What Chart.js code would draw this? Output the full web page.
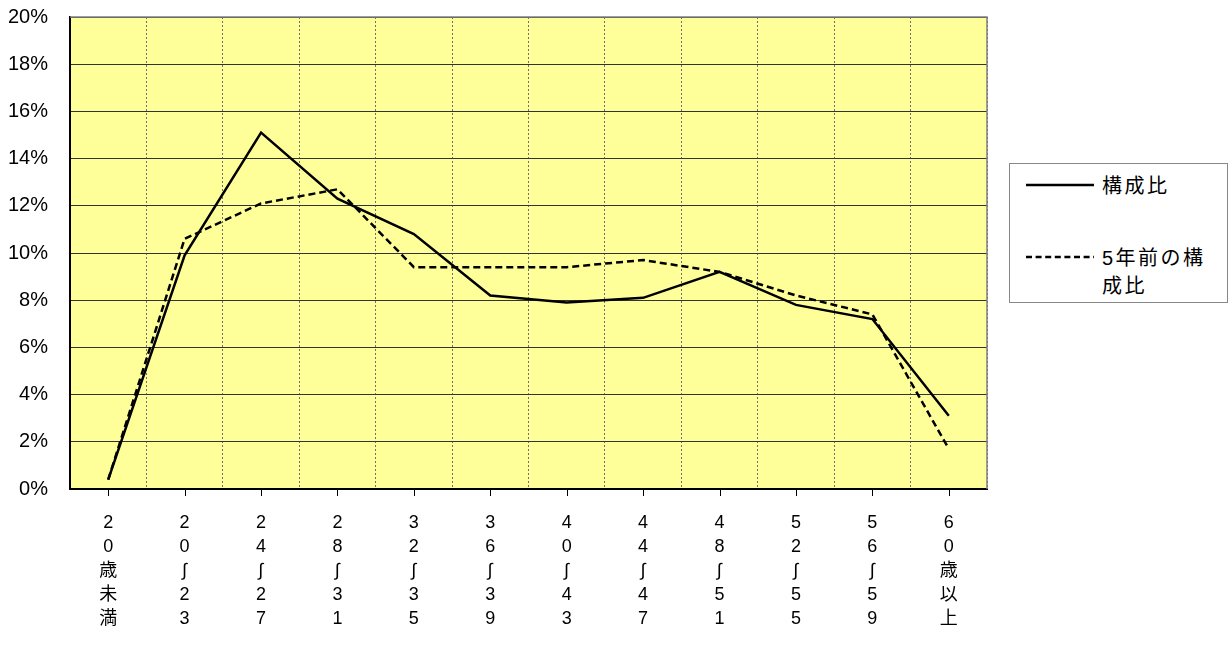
<!DOCTYPE html>
<html>
<head>
<meta charset="utf-8">
<script src="https://cdn.jsdelivr.net/npm/chart.js@4/dist/chart.umd.min.js"></script>
<style>
  body { margin: 0; background: #fff; }
  #wrap { position: relative; width: 1232px; height: 660px; }
  #legend {
    position: absolute; left: 1009px; top: 163px; width: 217px; height: 138px;
    border: 1px solid #888; background: #fff;
    font-family: "Liberation Sans", "Noto Sans CJK JP", sans-serif;
    font-size: 20px; letter-spacing: 2.5px; color: #000;
  }
  .item { position: absolute; left: 16px; }
  .item svg { position: absolute; left: 0; }
  .item span { position: absolute; left: 76px; width: 122px; line-height: 28px; }
</style>
</head>
<body>
<div id="wrap">
  <canvas id="chart" width="1232" height="660"></canvas>
  <div id="legend"></div>
</div>
<script>
// age groups, one character per line as in the original vertical labels
// (the vertical wave dash is shown with ∫, which has the same shape)
const categories = [
  ['2','0','歳','未','満'],
  ['2','0','∫','2','3'],
  ['2','4','∫','2','7'],
  ['2','8','∫','3','1'],
  ['3','2','∫','3','5'],
  ['3','6','∫','3','9'],
  ['4','0','∫','4','3'],
  ['4','4','∫','4','7'],
  ['4','8','∫','5','1'],
  ['5','2','∫','5','5'],
  ['5','6','∫','5','9'],
  ['6','0','歳','以','上']
];
// percent
const ratioNow = [0.4, 9.9, 15.1, 12.3, 10.8, 8.2, 7.9, 8.1, 9.2, 7.8, 7.2, 3.1];
const ratio5yAgo = [0.4, 10.6, 12.1, 12.7, 9.4, 9.4, 9.4, 9.7, 9.2, 8.2, 7.4, 1.7];
const yTicks = [0, 2, 4, 6, 8, 10, 12, 14, 16, 18, 20];

const font = '"Liberation Sans", "DejaVu Sans", "Noto Sans CJK JP", sans-serif';

const bgPlugin = {
  id: 'plotBg',
  beforeDraw(chart) {
    const a = chart.chartArea, ctx = chart.ctx;
    ctx.save();
    ctx.fillStyle = '#FFFF99';
    ctx.fillRect(a.left, a.top, a.right - a.left, a.bottom - a.top);
    ctx.restore();
  },
  afterDraw(chart) {
    const a = chart.chartArea, ctx = chart.ctx;
    const xs = chart.scales.x;
    ctx.save();
    // top/right frame
    ctx.strokeStyle = '#808080';
    ctx.lineWidth = 1.5;
    ctx.beginPath();
    ctx.moveTo(a.left, a.top);
    ctx.lineTo(a.right, a.top);
    ctx.lineTo(a.right, a.bottom);
    ctx.stroke();
    // tick marks at category centres
    ctx.strokeStyle = '#000';
    ctx.lineWidth = 1;
    for (let i = 0; i < categories.length; i++) {
      const x = Math.round(xs.getPixelForTick(i)) + 0.5;
      ctx.beginPath();
      ctx.moveTo(x, a.bottom);
      ctx.lineTo(x, a.bottom + 7);
      ctx.stroke();
    }
    ctx.restore();
  }
};

const chart = new Chart(document.getElementById('chart'), {
  type: 'line',
  data: {
    labels: categories,
    datasets: [
      {
        label: '構成比',
        data: ratioNow,
        borderColor: '#000',
        borderWidth: 2.5,
        pointRadius: 0,
        tension: 0,
        fill: false
      },
      {
        label: '5年前の構成比',
        data: ratio5yAgo,
        borderColor: '#000',
        borderWidth: 2.5,
        borderDash: [7, 4],
        pointRadius: 0,
        tension: 0,
        fill: false
      }
    ]
  },
  options: {
    responsive: false,
    devicePixelRatio: 1,
    animation: false,
    layout: { padding: { top: 17, right: 245, left: 0, bottom: 0 } },
    plugins: {
      legend: { display: false },
      tooltip: { enabled: false }
    },
    scales: {
      x: {
        offset: true,
        grid: {
          offset: true,
          color: '#6e6e6e',
          lineWidth: 1,
          drawTicks: false
        },
        // in v4 border.dash dashes the grid lines
        border: { display: true, color: '#000', width: 2, dash: [2, 2] },
        ticks: {
          autoSkip: false,
          maxRotation: 0,
          minRotation: 0,
          padding: 22,
          color: '#000',
          font: { family: font, size: 18, lineHeight: 24 / 18 }
        },
        afterFit(scale) { scale.height = 171; scale.paddingLeft = 0; scale.paddingRight = 0; }
      },
      y: {
        min: 0,
        max: 20,
        afterBuildTicks(scale) { scale.ticks = yTicks.map(v => ({ value: v })); },
        grid: { color: '#333', lineWidth: 1, drawTicks: false },
        border: { display: true, color: '#000', width: 2 },
        ticks: {
          padding: 22,
          color: '#000',
          font: { family: font, size: 20 },
          callback: v => v + '%'
        },
        afterFit(scale) { scale.width = 70; scale.paddingTop = 0; scale.paddingBottom = 0; }
      }
    }
  },
  plugins: [bgPlugin]
});

// legend built from the datasets
const legend = document.getElementById('legend');
const itemTops = [8, 80];
chart.data.datasets.forEach((ds, i) => {
  const item = document.createElement('div');
  item.className = 'item';
  item.style.top = itemTops[i] + 'px';
  const dash = ds.borderDash ? 'stroke-dasharray="6 3.6"' : '';
  item.innerHTML =
    '<svg width="68" height="28" style="top:0"><line x1="0" y1="13" x2="68" y2="13" stroke="#000" stroke-width="2.5" ' + dash + '/></svg>' +
    '<span>' + ds.label + '</span>';
  legend.appendChild(item);
});
</script>
</body>
</html>
